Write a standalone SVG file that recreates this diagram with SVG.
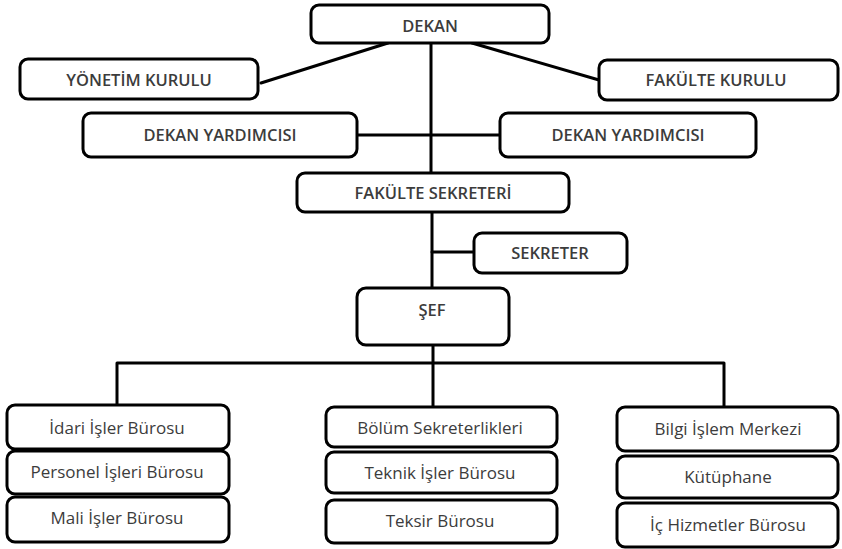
<svg xmlns="http://www.w3.org/2000/svg" width="842" height="549" viewBox="0 0 842 549">
<style>
  .box { fill: #ffffff; stroke: #000000; stroke-width: 3; }
  .ln { fill: none; stroke: #000000; stroke-width: 3; stroke-linecap: round; stroke-linejoin: round; }
  .t { font-family: "Open Sans", Lato, "Liberation Sans", sans-serif; fill: #3c3c3c; text-anchor: middle; }
  .up { font-size: 16.5px; font-weight: 600; }
  .lo { font-size: 17px; font-weight: normal; }
</style>
<rect width="842" height="549" fill="#ffffff"/>
<g id="connectors">
  <line class="ln" x1="431" y1="43" x2="431" y2="173"/>
  <line class="ln" x1="388" y1="43" x2="261" y2="83"/>
  <line class="ln" x1="472" y1="43" x2="599" y2="80"/>
  <line class="ln" x1="357" y1="135" x2="500" y2="135"/>
  <line class="ln" x1="432" y1="212" x2="432" y2="288"/>
  <line class="ln" x1="432" y1="252" x2="474" y2="252"/>
  <line class="ln" x1="433" y1="345" x2="433" y2="407"/>
  <polyline class="ln" points="117,404 117,363 724,363 724,407"/>
</g>
<g id="dekan">
  <rect class="box" x="311" y="5" width="238" height="38" rx="8"/>
  <text class="t up" x="430" y="32">DEKAN</text>
</g>
<g id="yonetim-kurulu">
  <rect class="box" x="20" y="59" width="238" height="40" rx="8"/>
  <text class="t up" x="139" y="86">YÖNETİM KURULU</text>
</g>
<g id="fakulte-kurulu">
  <rect class="box" x="599" y="60" width="239" height="40" rx="8"/>
  <text class="t up" x="716" y="86">FAKÜLTE KURULU</text>
</g>
<g id="dekan-yardimcisi-1">
  <rect class="box" x="83" y="113" width="274" height="44" rx="8"/>
  <text class="t up" x="220" y="141">DEKAN YARDIMCISI</text>
</g>
<g id="dekan-yardimcisi-2">
  <rect class="box" x="500" y="113" width="256" height="44" rx="8"/>
  <text class="t up" x="628" y="141">DEKAN YARDIMCISI</text>
</g>
<g id="fakulte-sekreteri">
  <rect class="box" x="297" y="173" width="272" height="39" rx="8"/>
  <text class="t up" x="433" y="199">FAKÜLTE SEKRETERİ</text>
</g>
<g id="sekreter">
  <rect class="box" x="474" y="233" width="153" height="40" rx="8"/>
  <text class="t up" x="550" y="259">SEKRETER</text>
</g>
<g id="sef">
  <rect class="box" x="357" y="288" width="152" height="57" rx="9"/>
  <text class="t up" x="432" y="316">ŞEF</text>
</g>
<g id="idari-isler">
  <rect class="box" x="7" y="405" width="222" height="44" rx="8"/>
  <text class="t lo" x="117" y="434">İdari İşler Bürosu</text>
</g>
<g id="personel-isleri">
  <rect class="box" x="7" y="451" width="222" height="43" rx="8"/>
  <text class="t lo" x="117" y="478">Personel İşleri Bürosu</text>
</g>
<g id="mali-isler">
  <rect class="box" x="7" y="497" width="222" height="45" rx="8"/>
  <text class="t lo" x="117" y="524">Mali İşler Bürosu</text>
</g>
<g id="bolum-sekreterlikleri">
  <rect class="box" x="326" y="407" width="231" height="40" rx="8"/>
  <text class="t lo" x="440" y="434">Bölüm Sekreterlikleri</text>
</g>
<g id="teknik-isler">
  <rect class="box" x="326" y="452" width="231" height="41" rx="8"/>
  <text class="t lo" x="440" y="479">Teknik İşler Bürosu</text>
</g>
<g id="teksir">
  <rect class="box" x="326" y="500" width="231" height="43" rx="8"/>
  <text class="t lo" x="440" y="527">Teksir Bürosu</text>
</g>
<g id="bilgi-islem">
  <rect class="box" x="617" y="407" width="221" height="44" rx="8"/>
  <text class="t lo" x="728" y="435">Bilgi İşlem Merkezi</text>
</g>
<g id="kutuphane">
  <rect class="box" x="617" y="456" width="221" height="42" rx="8"/>
  <text class="t lo" x="728" y="483">Kütüphane</text>
</g>
<g id="ic-hizmetler">
  <rect class="box" x="617" y="503" width="221" height="44" rx="8"/>
  <text class="t lo" x="728" y="531">İç Hizmetler Bürosu</text>
</g>
</svg>
